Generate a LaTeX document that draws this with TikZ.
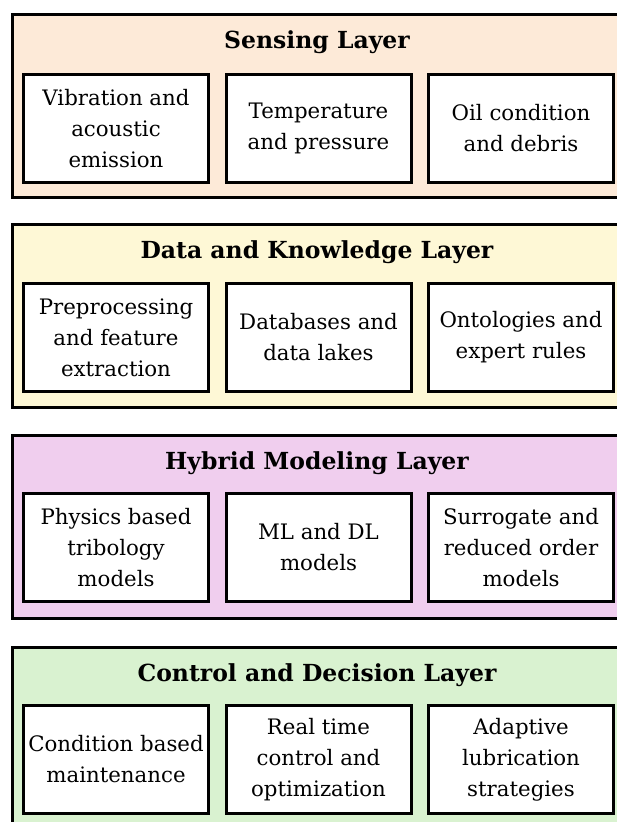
\documentclass[tikz,border=0pt]{standalone}
\usepackage{fontspec}
\setmainfont{DejaVu Serif}
\definecolor{cpeach}{HTML}{FDEAD8}
\definecolor{cyellow}{HTML}{FEF8D6}
\definecolor{cmagenta}{HTML}{F0CEEE}
\definecolor{cgreen}{HTML}{D9F2D0}
\tikzset{
  layerbox/.style={draw=black, line width=3pt, anchor=north west, minimum width=612pt, minimum height=183pt, inner sep=0pt},
  layertitle/.style={font=\fontsize{23.5}{28}\selectfont\bfseries, inner sep=0pt},
  itembox/.style={draw=black, fill=white, line width=3pt, anchor=north west, minimum width=185pt, minimum height=108pt, inner sep=0pt},
  itemtext/.style={font=\fontsize{21.3}{31}\selectfont, align=center, inner sep=0pt}
}
\begin{document}
\begin{tikzpicture}[x=1pt,y=1pt]
\useasboundingbox (0,0) rectangle (617,-822);
% Sensing layer
\node[layerbox, fill=cpeach] (L1) at (11,-13) {};
\node[layertitle] (T1) at (317,-42) {Sensing Layer};
\node[itembox] (A1) at (22,-73) {};
\node[itembox] (A2) at (224.5,-73) {};
\node[itembox] (A3) at (427,-73) {};
\node[itemtext] (a1) at (A1.center) {Vibration and\\acoustic\\emission};
\node[itemtext] (a2) at (A2.center) {Temperature\\and pressure};
\node[itemtext] (a3) at (A3.center) {Oil condition\\and debris};
% Data and Knowledge layer
\node[layerbox, fill=cyellow] (L2) at (11,-223) {};
\node[layertitle] (T2) at (317,-252) {Data and Knowledge Layer};
\node[itembox] (B1) at (22,-282) {};
\node[itembox] (B2) at (224.5,-282) {};
\node[itembox] (B3) at (427,-282) {};
\node[itemtext] (b1) at (B1.center) {Preprocessing\\and feature\\extraction};
\node[itemtext] (b2) at (B2.center) {Databases and\\data lakes};
\node[itemtext] (b3) at (B3.center) {Ontologies and\\expert rules};
% Hybrid Modeling layer
\node[layerbox, fill=cmagenta] (L3) at (11,-434) {};
\node[layertitle] (T3) at (317,-463) {Hybrid Modeling Layer};
\node[itembox] (C1) at (22,-492) {};
\node[itembox] (C2) at (224.5,-492) {};
\node[itembox] (C3) at (427,-492) {};
\node[itemtext] (c1) at (C1.center) {Physics based\\tribology\\models};
\node[itemtext] (c2) at (C2.center) {ML and DL\\models};
\node[itemtext] (c3) at (C3.center) {Surrogate and\\reduced order\\models};
% Control and Decision layer
\node[layerbox, fill=cgreen] (L4) at (11,-646) {};
\node[layertitle] (T4) at (317,-675) {Control and Decision Layer};
\node[itembox] (D1) at (22,-704) {};
\node[itembox] (D2) at (224.5,-704) {};
\node[itembox] (D3) at (427,-704) {};
\node[itemtext] (d1) at (D1.center) {Condition based\\maintenance};
\node[itemtext] (d2) at (D2.center) {Real time\\control and\\optimization};
\node[itemtext] (d3) at (D3.center) {Adaptive\\lubrication\\strategies};
\end{tikzpicture}
\end{document}
